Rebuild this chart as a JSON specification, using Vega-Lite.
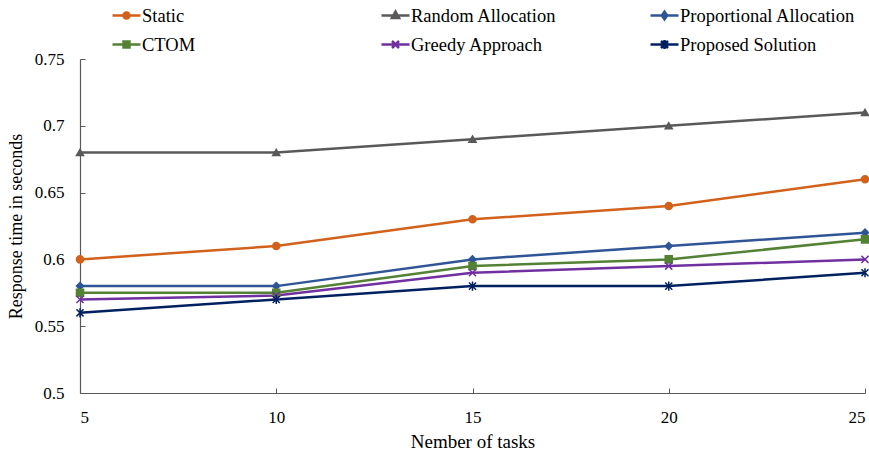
{
  "$schema": "https://vega.github.io/schema/vega-lite/v6.json",
  "width": 785,
  "height": 334,
  "autosize": {"type": "none"},
  "padding": {"left": 80, "right": 4, "top": 59, "bottom": 59},
  "background": "white",
  "data": {
    "values": [
      {"tasks": 5, "method": "Static", "time": 0.6},
      {"tasks": 10, "method": "Static", "time": 0.61},
      {"tasks": 15, "method": "Static", "time": 0.63},
      {"tasks": 20, "method": "Static", "time": 0.64},
      {"tasks": 25, "method": "Static", "time": 0.66},
      {"tasks": 5, "method": "Random Allocation", "time": 0.68},
      {"tasks": 10, "method": "Random Allocation", "time": 0.68},
      {"tasks": 15, "method": "Random Allocation", "time": 0.69},
      {"tasks": 20, "method": "Random Allocation", "time": 0.7},
      {"tasks": 25, "method": "Random Allocation", "time": 0.71},
      {"tasks": 5, "method": "Proportional Allocation", "time": 0.58},
      {"tasks": 10, "method": "Proportional Allocation", "time": 0.58},
      {"tasks": 15, "method": "Proportional Allocation", "time": 0.6},
      {"tasks": 20, "method": "Proportional Allocation", "time": 0.61},
      {"tasks": 25, "method": "Proportional Allocation", "time": 0.62},
      {"tasks": 5, "method": "CTOM", "time": 0.575},
      {"tasks": 10, "method": "CTOM", "time": 0.575},
      {"tasks": 15, "method": "CTOM", "time": 0.595},
      {"tasks": 20, "method": "CTOM", "time": 0.6},
      {"tasks": 25, "method": "CTOM", "time": 0.615},
      {"tasks": 5, "method": "Greedy Approach", "time": 0.57},
      {"tasks": 10, "method": "Greedy Approach", "time": 0.573},
      {"tasks": 15, "method": "Greedy Approach", "time": 0.59},
      {"tasks": 20, "method": "Greedy Approach", "time": 0.595},
      {"tasks": 25, "method": "Greedy Approach", "time": 0.6},
      {"tasks": 5, "method": "Proposed Solution", "time": 0.56},
      {"tasks": 10, "method": "Proposed Solution", "time": 0.57},
      {"tasks": 15, "method": "Proposed Solution", "time": 0.58},
      {"tasks": 20, "method": "Proposed Solution", "time": 0.58},
      {"tasks": 25, "method": "Proposed Solution", "time": 0.59}
    ]
  },
  "encoding": {
    "x": {
      "field": "tasks", "type": "quantitative",
      "scale": {"domain": [5, 25], "nice": false, "zero": false},
      "axis": {"values": [5, 10, 15, 20, 25], "title": "Nember of tasks", "grid": false, "tickSize": -5, "labelPadding": 21, "titlePadding": 7}
    },
    "y": {
      "field": "time", "type": "quantitative",
      "scale": {"domain": [0.5, 0.75], "nice": false, "zero": false},
      "axis": {"values": [0.5, 0.55, 0.6, 0.65, 0.7, 0.75], "format": "~g", "title": "Response time in seconds", "grid": false, "tickSize": -5, "labelPadding": 21, "titlePadding": 9, "titleFontSize": 18}
    }
  },
  "layer": [
    {
      "mark": {"type": "line", "strokeWidth": 2.5},
      "encoding": {
        "color": {
          "field": "method", "type": "nominal", "legend": null,
          "scale": {
            "domain": ["Static", "Random Allocation", "Proportional Allocation", "CTOM", "Greedy Approach", "Proposed Solution"],
            "range": ["#D2621B", "#595959", "#2F5597", "#548235", "#7030A0", "#002060"]
          }
        }
      }
    },
    {
      "mark": {"type": "point", "filled": true, "size": 50, "strokeWidth": 1.5, "opacity": 1},
      "encoding": {
        "color": {"field": "method", "type": "nominal", "legend": null},
        "shape": {
          "field": "method", "type": "nominal", "legend": null,
          "scale": {
            "domain": ["Static", "Random Allocation", "Proportional Allocation", "CTOM", "Greedy Approach", "Proposed Solution"],
            "range": ["circle", "triangle-up", "diamond", "square", "M-1,-1L1,1M-1,1L1,-1", "M-1,-1L1,1M-1,1L1,-1M0,-1.3L0,1.3"]
          }
        },
        "stroke": {
          "field": "method", "type": "nominal", "legend": null,
          "scale": {
            "domain": ["Static", "Random Allocation", "Proportional Allocation", "CTOM", "Greedy Approach", "Proposed Solution"],
            "range": ["#D2621B", "#595959", "#2F5597", "#548235", "#7030A0", "#002060"]
          }
        }
      }
    },
    {
      "mark": {"type": "point", "filled": true, "opacity": 0, "strokeWidth": 2.5},
      "encoding": {
        "fill": {
          "field": "method", "type": "nominal",
          "scale": {
            "domain": ["Static", "Random Allocation", "Proportional Allocation", "CTOM", "Greedy Approach", "Proposed Solution"],
            "range": ["#D2621B", "#595959", "#2F5597", "#548235", "#7030A0", "#002060"]
          },
          "legend": {
            "title": null, "orient": "none", "direction": "horizontal", "legendX": 35, "legendY": -55, "columns": 3, "gridAlign": "all",
            "columnPadding": 58, "rowPadding": 8, "padding": 0,
            "labelFont": "Liberation Serif", "labelFontSize": 18.5, "labelColor": "#000", "labelLimit": 400, "labelOffset": 4,
            "symbolSize": 400, "symbolStrokeWidth": 2.5, "symbolOpacity": 1
          }
        },
        "stroke": {
          "field": "method", "type": "nominal",
          "scale": {
            "domain": ["Static", "Random Allocation", "Proportional Allocation", "CTOM", "Greedy Approach", "Proposed Solution"],
            "range": ["#D2621B", "#595959", "#2F5597", "#548235", "#7030A0", "#002060"]
          },
          "legend": {
            "title": null, "orient": "none", "direction": "horizontal", "legendX": 35, "legendY": -55, "columns": 3, "gridAlign": "all",
            "columnPadding": 58, "rowPadding": 8, "padding": 0,
            "labelFont": "Liberation Serif", "labelFontSize": 18.5, "labelColor": "#000", "labelLimit": 400, "labelOffset": 4,
            "symbolSize": 400, "symbolStrokeWidth": 2.5, "symbolOpacity": 1
          }
        },
        "shape": {
          "field": "method", "type": "nominal",
          "scale": {
            "domain": ["Static", "Random Allocation", "Proportional Allocation", "CTOM", "Greedy Approach", "Proposed Solution"],
            "range": [
              "M-1.4,0L1.4,0M-0.3,0A0.3,0.3 0 1,0 0.3,0A0.3,0.3 0 1,0 -0.3,0",
              "M-1.4,0L1.4,0M0,-0.4L0.36,0.25L-0.36,0.25Z",
              "M-1.4,0L1.4,0M0,-0.38L0.27,0L0,0.38L-0.27,0Z",
              "M-1.4,0L1.4,0M-0.3,-0.3L0.3,-0.3L0.3,0.3L-0.3,0.3Z",
              "M-1.4,0L1.4,0M-0.35,-0.35L0.35,0.35M-0.35,0.35L0.35,-0.35",
              "M-1.4,0L1.4,0M-0.35,-0.35L0.35,0.35M-0.35,0.35L0.35,-0.35M0,-0.45L0,0.45"
            ]
          },
          "legend": {
            "title": null, "orient": "none", "direction": "horizontal", "legendX": 35, "legendY": -55, "columns": 3, "gridAlign": "all",
            "columnPadding": 58, "rowPadding": 8, "padding": 0,
            "labelFont": "Liberation Serif", "labelFontSize": 18.5, "labelColor": "#000", "labelLimit": 400, "labelOffset": 4,
            "symbolSize": 400, "symbolStrokeWidth": 2.5, "symbolOpacity": 1
          }
        }
      }
    }
  ],
  "resolve": {"scale": {"shape": "independent", "stroke": "independent", "fill": "independent"}},
  "config": {
    "view": {"stroke": null},
    "axis": {
      "labelFont": "Liberation Serif", "titleFont": "Liberation Serif",
      "labelFontSize": 17, "titleFontSize": 19, "titleFontWeight": "normal",
      "labelColor": "#000", "titleColor": "#000",
      "domainColor": "#595959", "tickColor": "#595959", "domainWidth": 1.2
    }
  }
}
